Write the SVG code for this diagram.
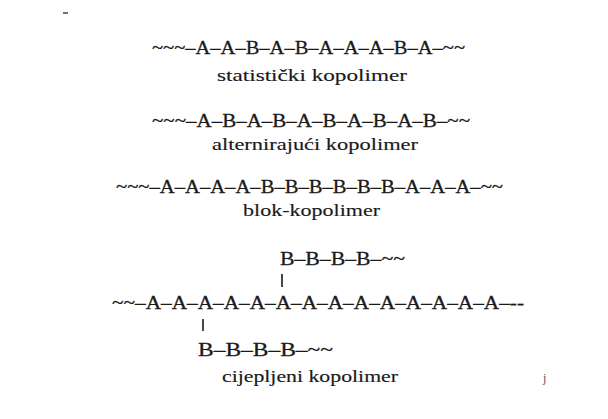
<svg xmlns="http://www.w3.org/2000/svg" width="608" height="419" viewBox="0 0 608 419">
<style>
.chain{font-family:"Liberation Serif","DejaVu Serif",serif;font-size:19px;fill:#1a1a1a;stroke:#1a1a1a;stroke-width:0.3}
.lab{font-family:"Liberation Serif","DejaVu Serif",serif;font-size:17px;fill:#1a1a1a;stroke:#1a1a1a;stroke-width:0.15}
.bond{stroke:#1a1a1a;stroke-width:1.6}
</style>
<rect width="608" height="419" fill="#fff"/>
<line x1="63" y1="13" x2="68" y2="13" stroke="#444" stroke-width="1.5"/>
<g id="statisticki">
<text class="chain" x="152" y="54" textLength="313" lengthAdjust="spacingAndGlyphs">~~~–A–A–B–A–B–A–A–A–B–A–~~</text>
<text class="lab" x="217" y="81" textLength="190" lengthAdjust="spacingAndGlyphs">statistički kopolimer</text>
</g>
<g id="alternirajuci">
<text class="chain" x="152" y="127" textLength="318" lengthAdjust="spacingAndGlyphs">~~~–A–B–A–B–A–B–A–B–A–B–~~</text>
<text class="lab" x="212" y="150" textLength="206" lengthAdjust="spacingAndGlyphs">alternirajući kopolimer</text>
</g>
<g id="blok">
<text class="chain" x="116" y="193" textLength="387" lengthAdjust="spacingAndGlyphs">~~~–A–A–A–A–B–B–B–B–B–B–A–A–A–~~</text>
<text class="lab" x="243" y="216" textLength="137" lengthAdjust="spacingAndGlyphs">blok-kopolimer</text>
</g>
<g id="cijepljeni">
<text class="chain" x="280" y="265" textLength="125" lengthAdjust="spacingAndGlyphs">B–B–B–B–~~</text>
<text class="chain" x="112" y="309" textLength="412" lengthAdjust="spacingAndGlyphs">~~–A–A–A–A–A–A–A–A–A–A–A–A–A–A–--</text>
<text class="chain" x="198" y="356" textLength="135" lengthAdjust="spacingAndGlyphs">B–B–B–B–~~</text>
<text class="lab" x="222" y="382" textLength="176" lengthAdjust="spacingAndGlyphs">cijepljeni kopolimer</text>
</g>
<g id="connectors">
<line class="bond" x1="282" y1="274" x2="282" y2="287"/>
<line class="bond" x1="203" y1="319" x2="203" y2="331"/>
</g>
<text x="543" y="382" style="font-family:'Liberation Serif',serif;font-size:12px;fill:#555">j</text>
</svg>
